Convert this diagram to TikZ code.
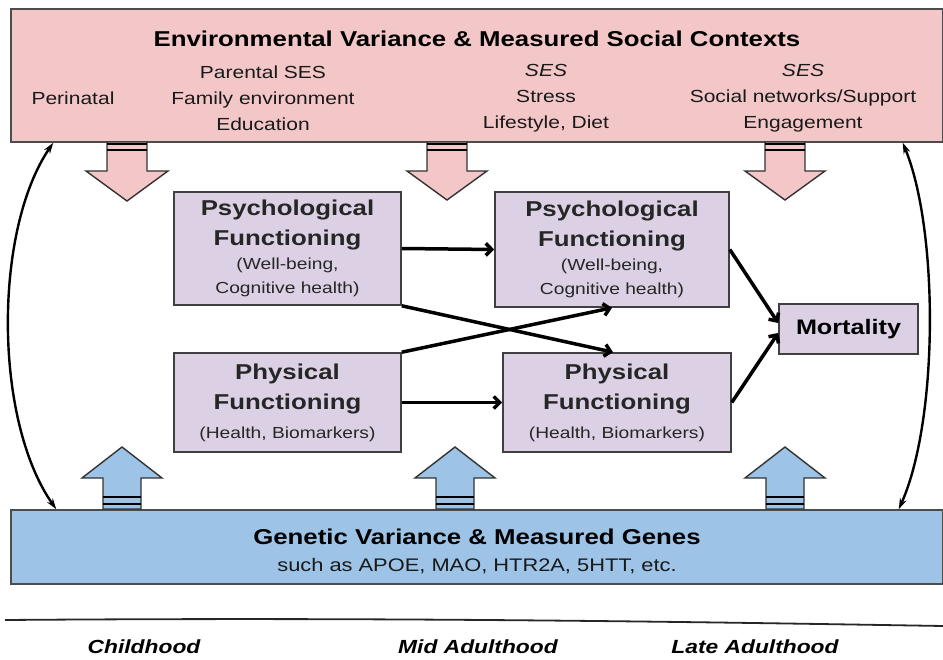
\documentclass[tikz,border=0pt]{standalone}
\usepackage{fontspec}
\setmainfont[FakeStretch=1.2]{Liberation Sans} % 类Arial字体,略微拉宽
\usetikzlibrary{arrows.meta, positioning, calc}

\definecolor{envpink}{RGB}{243,199,199}    % 环境框粉色
\definecolor{funcpurple}{RGB}{220,208,228} % 功能框淡紫色
\definecolor{genblue}{RGB}{157,195,230}    % 基因框蓝色
\newcommand{\boxhead}[1]{{\bfseries\fontsize{21.5}{24}\selectfont #1}} % 功能框粗体标题行

\begin{document}
\begin{tikzpicture}[x=1pt, y=-1pt, % 像素坐标,y轴向下
  envbox/.style={draw=black!70, line width=1.5pt, fill=envpink, minimum width=932pt, minimum height=133pt, inner sep=0pt},
  genbox/.style={draw=black!70, line width=1.5pt, fill=genblue, minimum width=932pt, minimum height=74pt, inner sep=0pt},
  funcbox/.style={draw=black!75, line width=1.6pt, fill=funcpurple, align=center, inner sep=0pt,
                  font=\fontsize{16}{24}\selectfont, text=black!85},
  rowtext/.style={align=center, font=\fontsize{17.5}{26}\selectfont, text=black!90},
  headtext/.style={font=\bfseries\fontsize{21.5}{24}\selectfont},
  agetext/.style={font=\bfseries\itshape\fontsize{19}{24}\selectfont},
  link/.style={line width=3.5pt, -{Straight Barb[length=6pt, width=12pt]}},
  arcarrow/.style={line width=2.4pt, {Stealth[length=11pt, width=7pt]}-{Stealth[length=11pt, width=7pt]}},
  downarrow/.style={draw=black!80, line width=1.4pt, fill=envpink, line join=miter},
  uparrow/.style={draw=black!80, line width=1.4pt, fill=genblue, line join=miter},
  stripe/.style={draw=black, line width=1.8pt}]
\useasboundingbox (0,0) rectangle (943,660); % 固定画面尺寸

% 顶部:环境方差框
\node[envbox] (env) at (477,75.5) {};
\node[headtext] (envTitle) at (477,39) {Environmental Variance \& Measured Social Contexts};
\node[rowtext] (envPeri) at (73,98) {Perinatal};
\node[rowtext] (envEarly) at (263,98) {Parental SES\\Family environment\\Education};
\node[rowtext] (envMid) at (546,98) {\itshape SES\\Stress\\Lifestyle, Diet};
\node[rowtext] (envLate) at (803,98) {\textit{SES}\\Social networks/Support\\Engagement};

% 底部:基因方差框
\node[genbox] (gene) at (477,547) {};
\node[headtext] (geneTitle) at (477,537) {Genetic Variance \& Measured Genes};
\node[rowtext, font=\fontsize{18.2}{24}\selectfont] (geneList) at (477,566) {such as APOE, MAO, HTR2A, 5HTT, etc.};

% 中部:四个功能框与死亡率框
\node[funcbox, minimum width=227pt, minimum height=113pt] (psyA) at (287.5,248.5)
  {\boxhead{Psychological}\\[6pt]\boxhead{Functioning}\\(Well-being,\\Cognitive health)};
\node[funcbox, minimum width=234pt, minimum height=115pt] (psyB) at (612,249.5)
  {\boxhead{Psychological}\\[6pt]\boxhead{Functioning}\\(Well-being,\\Cognitive health)};
\node[funcbox, minimum width=227pt, minimum height=99pt] (phyA) at (287.5,402.5)
  {\boxhead{Physical}\\[6pt]\boxhead{Functioning}\\[5pt](Health, Biomarkers)};
\node[funcbox, minimum width=228pt, minimum height=99pt] (phyB) at (617,402.5)
  {\boxhead{Physical}\\[6pt]\boxhead{Functioning}\\[5pt](Health, Biomarkers)};
\node[funcbox, minimum width=139pt, minimum height=50pt, font=\bfseries\fontsize{21}{24}\selectfont, text=black] (mort) at (848.5,329) {Mortality};

% 功能框之间的箭头
\draw[link] (psyA.east) -- (psyB.west);
\draw[link] (phyA.east) -- (phyB.west);
\draw[link] (psyA.south east) -- ([xshift=-4pt]phyB.north);
\draw[link] (phyA.north east) -- (psyB.south);
\draw[link] (psyB.east) -- ([yshift=6pt]mort.west);
\draw[link] (phyB.east) -- ([yshift=-4pt]mort.west);

% 两侧弧形双向箭头
\draw[arcarrow] ([xshift=43pt]env.south west) .. controls (-6.5,230) and (-6.5,420) .. ([xshift=46pt]gene.north west);
\draw[arcarrow] ([xshift=-41pt]env.south east) .. controls (938.7,230) and (938.7,420) .. ([xshift=-45pt]gene.north east);

% 粉色向下粗箭头
\draw[downarrow, shift={(127,0)}] (-20,142) -- (-20,171) -- (-41,171) -- (0,201) -- (41,171) -- (20,171) -- (20,142) -- cycle;
\draw[downarrow, shift={(447,0)}] (-20,142) -- (-20,171) -- (-40,171) -- (0,200) -- (40,171) -- (20,171) -- (20,142) -- cycle;
\draw[downarrow, shift={(785,0)}] (-20,142) -- (-20,171) -- (-40,171) -- (0,200) -- (40,171) -- (20,171) -- (20,142) -- cycle;
\draw[stripe, shift={(127,0)}] (-20,144) -- (20,144) (-20,150) -- (20,150);
\draw[stripe, shift={(447,0)}] (-20,144) -- (20,144) (-20,150) -- (20,150);
\draw[stripe, shift={(785,0)}] (-20,144) -- (20,144) (-20,150) -- (20,150);

% 蓝色向上粗箭头
\draw[uparrow, shift={(122,0)}] (-19,509) -- (-19,478) -- (-40,478) -- (0,447) -- (40,478) -- (19,478) -- (19,509) -- cycle;
\draw[uparrow, shift={(455,0)}] (-19,509) -- (-19,478) -- (-40,478) -- (0,447) -- (40,478) -- (19,478) -- (19,509) -- cycle;
\draw[uparrow, shift={(785,0)}] (-19,509) -- (-19,478) -- (-40,478) -- (0,447) -- (40,478) -- (19,478) -- (19,509) -- cycle;
\draw[stripe, shift={(122,0)}] (-19,497) -- (19,497) (-19,504) -- (19,504);
\draw[stripe, shift={(455,0)}] (-19,497) -- (19,497) (-19,504) -- (19,504);
\draw[stripe, shift={(785,0)}] (-19,497) -- (19,497) (-19,504) -- (19,504);

% 时间轴
\draw[line width=1.8pt, black!85] (5,620) .. controls (400,617) and (700,622) .. (943,626);
\node[agetext] (tChild) at (144,647) {Childhood};
\node[agetext] (tMid) at (478,647) {Mid Adulthood};
\node[agetext] (tLate) at (755,647) {Late Adulthood};
\end{tikzpicture}
\end{document}
